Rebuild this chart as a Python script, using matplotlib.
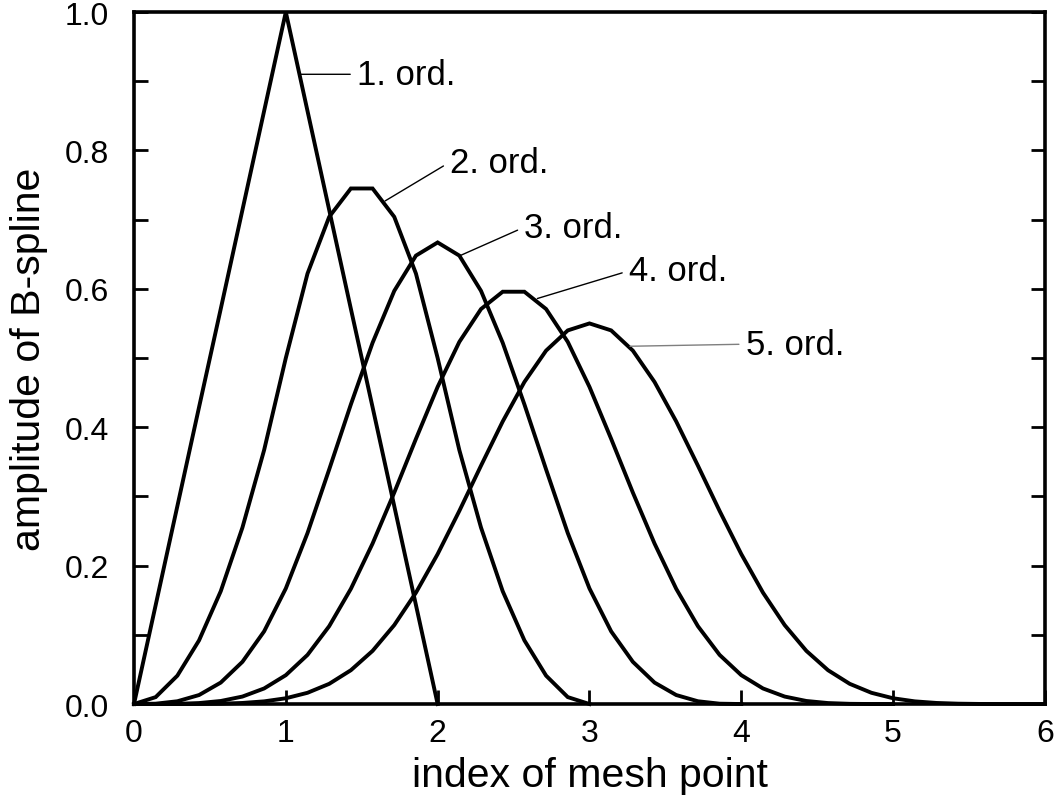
import matplotlib
matplotlib.use("Agg")
import matplotlib.pyplot as plt
import numpy as np

plt.rcParams['font.family'] = ['Liberation Sans', 'DejaVu Sans']

# B-spline amplitudes on a mesh with 7 samples per unit interval
order1 = [0, .143, .286, .429, .571, .714, .857, 1.0, .857, .714, .571, .429,
          .286, .143, 0]
order2 = [0, .010, .041, .092, .163, .255, .367, .5, .622, .704, .745, .745,
          .704, .622, .5, .367, .255, .163, .092, .041, .010, 0]
order3 = [0, .0005, .004, .013, .031, .061, .105, .167, .247, .339, .433, .522,
          .597, .648, .667, .648, .597, .522, .433, .339, .247, .167, .105,
          .061, .031, .013, .004, .0005, 0]
order4 = [0, .00002, .0003, .0014, .0044, .0108, .0225, .0417, .0710, .1125,
          .1665, .2319, .3056, .3832, .4583, .5233, .5708, .5958, .5958,
          .5708, .5233, .4583, .3832, .3056, .2319, .1665, .1125, .0710,
          .0417, .0225, .0108, .0044, .0014, .0003, .00002, 0]
order5 = [0, .0000005, .000016, .00012, .00051, .00155, .00386, .00833,
          .01624, .02918, .04886, .07681, .11408, .16096, .21667, .27904,
          .34448, .40831, .46539, .51069, .53990, .55, .53990, .51069,
          .46539, .40831, .34448, .27904, .21667, .16096, .11408, .07681,
          .04886, .02918, .01624, .00833, .00386, .00155, .00051, .00012,
          .000016, .0000005, 0]
splines = [order1, order2, order3, order4, order5]
labels = ['1. ord.', '2. ord.', '3. ord.', '4. ord.', '5. ord.']

# where each leader line touches its curve, and where the label sits
label_anchor = [(1.09, 0.91), (1.654, 0.727), (2.148, 0.648),
                (2.657, 0.586), (3.267, 0.517)]
label_pos = [(1.47, 0.91), (2.08, 0.783), (2.57, 0.689),
             (3.26, 0.626), (4.03, 0.520)]
leader_color = ['black', 'black', 'black', 'black', '#7f7f7f']

fig = plt.figure(figsize=(10.6, 8.03), dpi=100)
ax = fig.add_axes([0.1264, 0.122, 0.8594, 0.8618])

for vals in splines:
    y = np.array(vals)
    x = np.arange(len(y)) / 7.0
    ax.plot(x, y, color='black', lw=2.8, clip_on=False,
            solid_joinstyle='miter')

for lab, xy, xt, lc in zip(labels, label_anchor, label_pos, leader_color):
    ax.annotate(lab, xy=xy, xytext=xt, fontsize=25, ha='left', va='center',
                arrowprops=dict(arrowstyle='-', lw=1.0, color=lc,
                                relpos=(0, 0.5), shrinkA=3, shrinkB=0))

ax.set_xlim(0, 6)
ax.set_ylim(0, 1.0)
ax.set_xticks(range(7))
ax.set_yticks([0, 0.2, 0.4, 0.6, 0.8, 1.0])
ax.set_yticklabels(['0.0', '0.2', '0.4', '0.6', '0.8', '1.0'])
ax.set_yticks(np.arange(0.1, 1.0, 0.2), minor=True)
ax.tick_params(axis='both', which='both', direction='in', width=2,
               length=10, labelsize=23)
ax.tick_params(axis='y', which='both', right=True)
ax.tick_params(axis='x', pad=10)
ax.tick_params(axis='y', pad=18)
for sp in ax.spines.values():
    sp.set_linewidth(2.6)

ax.set_xlabel('index of mesh point', fontsize=29.5, labelpad=6)
ax.set_ylabel('amplitude of B-spline', fontsize=29.5, labelpad=12)

fig.savefig('out.png', dpi=100)
